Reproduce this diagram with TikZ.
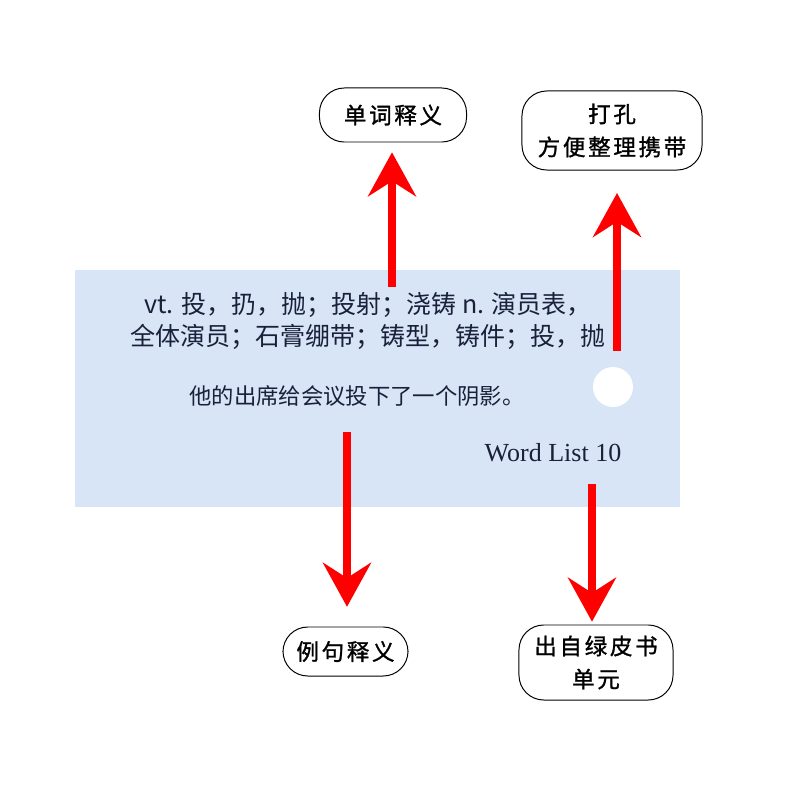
\documentclass[tikz,border=0pt]{standalone}
\usepackage{fontspec}
\usepackage{xcolor}
\usepackage{tikz}
\usetikzlibrary{arrows.meta, positioning, calc}
\setmainfont{Liberation Serif}
\newfontfamily\cjk{Noto Sans CJK SC}
\newfontfamily\cjkwide[LetterSpace=12, FakeBold=1.2]{Noto Sans CJK SC}
\definecolor{cardblue}{RGB}{215,229,246}
\definecolor{inkblue}{RGB}{26,32,58}
\tikzstyle{card} = [rectangle, fill=cardblue, minimum width=15.125cm, minimum height=5.925cm, inner sep=0pt]
\tikzstyle{tag} = [rectangle, draw=black, line width=0.7pt, fill=white, rounded corners=0.62cm, align=center, font=\cjkwide\fontsize{16}{23.5}\selectfont, inner sep=0pt]
\tikzstyle{arrow} = [red, line width=5pt, -{Stealth[length=1.1cm, width=1.2cm, inset=0.38cm]}]

\begin{document}
\begin{tikzpicture}[x=0.025cm, y=-0.025cm]
\useasboundingbox (0,0) rectangle (800,800);

% the card
\node (card) [card] at (377.5,388.5) {};
\fill [white] (613,387) circle (20);
\node (def) [text=inkblue, align=center, font=\cjk\fontsize{17.8}{23}\selectfont] at (368,321)
  {vt. 投，扔，抛；投射；浇铸 n. 演员表，\\全体演员；石膏绷带；铸型，铸件；投，抛};
\node (ex) [text=inkblue, font=\cjk\fontsize{15.9}{20}\selectfont] at (357,396) {他的出席给会议投下了一个阴影。};
\node (unit) [text=inkblue, font=\fontsize{18.5}{22}\selectfont] at (553,453) {Word List 10};

% labels
\node (meaning) [tag, minimum width=3.675cm, minimum height=1.35cm] at (393,115) {单词释义};
\node (hole) [tag, minimum width=4.5cm, minimum height=1.975cm] at (612,130.5) {打孔\\方便整理携带};
\node (sample) [tag, minimum width=3.125cm, minimum height=1.225cm] at (345.5,651.5) {例句释义};
\node (source) [tag, minimum width=3.85cm, minimum height=1.875cm] at (596,662.5) {出自绿皮书\\单元};

% arrows
\coordinate (a1) at (392,287);
\coordinate (a2) at (617,351);
\coordinate (a3) at (347,432);
\coordinate (a4) at (592,484);
\draw [arrow, shorten >=7] (a1) -- (a1 |- meaning.south);
\draw [arrow, shorten >=16] (a2) -- (a2 |- hole.south);
\draw [arrow, shorten >=14] (a3) -- (a3 |- sample.north);
\draw [arrow, shorten >=2] (a4) -- (a4 |- source.north);
\end{tikzpicture}
\end{document}
